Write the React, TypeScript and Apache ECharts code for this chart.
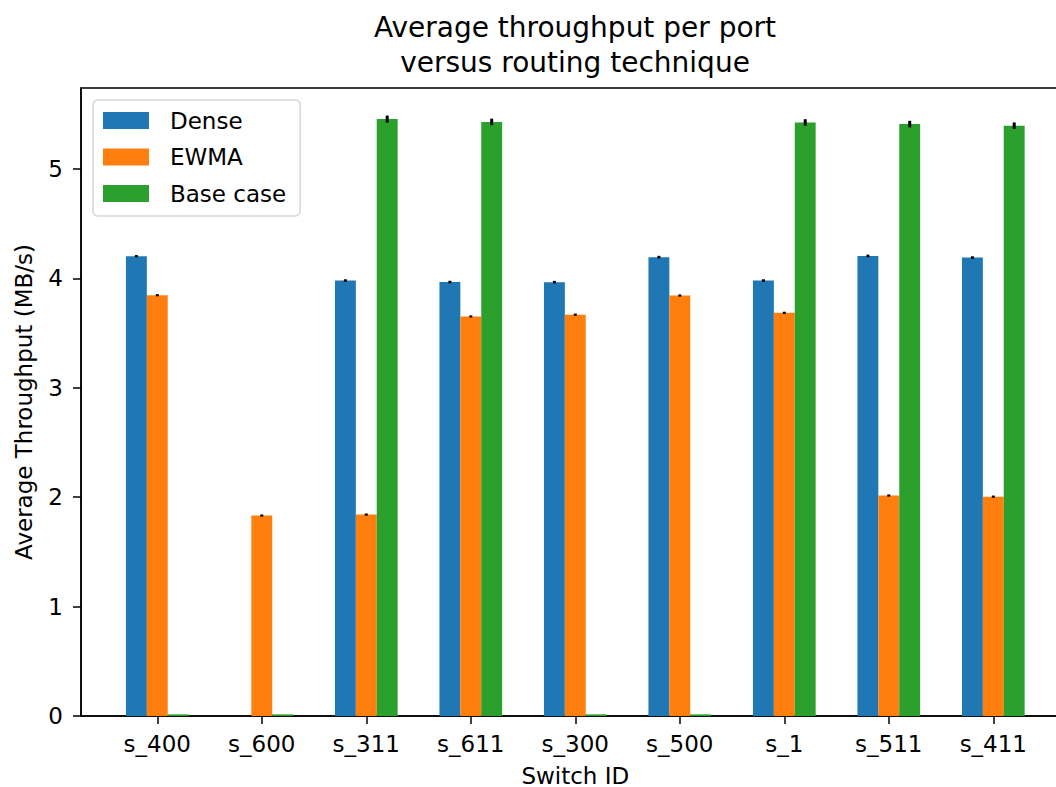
import React, { useEffect, useRef } from 'react';
import * as echarts from 'echarts';

const switches = ['s_400', 's_600', 's_311', 's_611', 's_300', 's_500', 's_1', 's_511', 's_411'];
const dense = [4.203, 0, 3.98, 3.966, 3.965, 4.194, 3.98, 4.205, 4.19];
const ewma = [3.846, 1.832, 1.841, 3.652, 3.668, 3.843, 3.685, 2.015, 2.005];
const baseCase = [0.015, 0.015, 5.456, 5.43, 0.015, 0.015, 5.425, 5.41, 5.395];
const denseErr = [0.01, 0, 0.012, 0.012, 0.012, 0.012, 0.012, 0.012, 0.012];
const ewmaErr = [0.01, 0.01, 0.01, 0.01, 0.01, 0.01, 0.01, 0.01, 0.01];
const baseErr = [0, 0, 0.032, 0.03, 0, 0, 0.03, 0.03, 0.03];
const yTicks = [0, 1, 2, 3, 4, 5];
const xTicks = switches.map((_, i) => i);

const FONT = 'DejaVu Sans';
const COLORS = ['#1f77b4', '#ff7f0e', '#2ca02c'];

export default function App() {
  const ref = useRef<HTMLDivElement>(null);

  useEffect(() => {
    if (!ref.current) return;
    const chart = echarts.init(ref.current, null, { renderer: 'svg' });

    const barData = (vals: number[]) => vals.map((v, i) => [i, v]);
    const errData: any[] = [];
    const groups: [number[], number[], number][] = [
      [dense, denseErr, -0.2],
      [ewma, ewmaErr, 0],
      [baseCase, baseErr, 0.2],
    ];
    groups.forEach(([vals, errs, off]) => {
      vals.forEach((v, i) => {
        if (errs[i] > 0) errData.push([i, v, errs[i], off]);
      });
    });

    const option: any = {
      animation: false,
      backgroundColor: '#fff',
      title: {
        text: 'Average throughput per port\nversus routing technique',
        left: 575,
        top: 10,
        padding: 0,
        textAlign: 'center',
        textStyle: {
          fontFamily: FONT,
          fontSize: 28,
          lineHeight: 35,
          fontWeight: 'normal',
          color: '#000',
        },
      },
      legend: {
        data: ['Dense', 'EWMA', 'Base case'],
        orient: 'vertical',
        left: 93,
        top: 100,
        padding: [9, 14, 11, 10],
        itemWidth: 46,
        itemHeight: 17,
        itemGap: 13.5,
        icon: 'rect',
        backgroundColor: 'rgba(255,255,255,0.8)',
        borderColor: '#d6d6d6',
        borderWidth: 1.5,
        borderRadius: 5,
        textStyle: {
          fontFamily: FONT,
          fontSize: 23,
          lineHeight: 20,
          color: '#000',
          padding: [0, 0, 0, 16],
        },
      },
      grid: {
        left: 81,
        top: 88,
        right: -13.6,
        bottom: 71,
        outerBoundsMode: 'none',
        containLabel: false,
        show: true,
        borderColor: '#000',
        borderWidth: 1.5,
        backgroundColor: 'transparent',
      },
      xAxis: {
        type: 'value',
        min: -0.73,
        max: 8.73,
        name: 'Switch ID',
        nameLocation: 'middle',
        nameGap: 48,
        nameTextStyle: { fontFamily: FONT, fontSize: 23, color: '#000' },
        axisLine: { show: true, onZero: false, lineStyle: { color: '#000', width: 1.5 } },
        axisTick: {
          show: true,
          length: 8,
          lineStyle: { color: '#000', width: 1.5 },
          customValues: xTicks,
        },
        axisLabel: {
          customValues: xTicks,
          margin: 16,
          fontFamily: FONT,
          fontSize: 23,
          color: '#000',
          formatter: (v: number) => switches[Math.round(v)] ?? '',
        },
        splitLine: { show: false },
      },
      yAxis: {
        type: 'value',
        min: 0,
        max: 5.74,
        name: 'Average Throughput (MB/s)',
        nameLocation: 'middle',
        nameGap: 46,
        nameTextStyle: { fontFamily: FONT, fontSize: 23, color: '#000' },
        axisLine: { show: true, onZero: false, lineStyle: { color: '#000', width: 1.5 } },
        axisTick: {
          show: true,
          length: 8,
          lineStyle: { color: '#000', width: 1.5 },
          customValues: yTicks,
        },
        axisLabel: {
          customValues: yTicks,
          margin: 18,
          fontFamily: FONT,
          fontSize: 23,
          color: '#000',
        },
        splitLine: { show: false },
      },
      series: [
        {
          name: 'Dense',
          type: 'bar',
          data: barData(dense),
          barWidth: 20.9,
          barGap: '0%',
          itemStyle: { color: COLORS[0] },
        },
        {
          name: 'EWMA',
          type: 'bar',
          data: barData(ewma),
          barWidth: 20.9,
          barGap: '0%',
          itemStyle: { color: COLORS[1] },
        },
        {
          name: 'Base case',
          type: 'bar',
          data: barData(baseCase),
          barWidth: 20.9,
          barGap: '0%',
          itemStyle: { color: COLORS[2] },
        },
        {
          name: 'errors',
          type: 'custom',
          z: 5,
          data: errData,
          renderItem: (params: any, api: any) => {
            const x = api.value(0);
            const v = api.value(1);
            const e = api.value(2);
            const off = api.value(3);
            const p1 = api.coord([x + off, v - e]);
            const p2 = api.coord([x + off, v + e]);
            return {
              type: 'line',
              shape: { x1: p1[0], y1: p1[1], x2: p2[0], y2: p2[1] },
              style: { stroke: '#000', lineWidth: 3 },
            };
          },
        },
      ],
    };

    chart.setOption(option);
    return () => chart.dispose();
  }, []);

  return (
    <div
      ref={ref}
      style={{ position: 'absolute', left: 0, top: 0, width: 1056, height: 787 }}
    />
  );
}
